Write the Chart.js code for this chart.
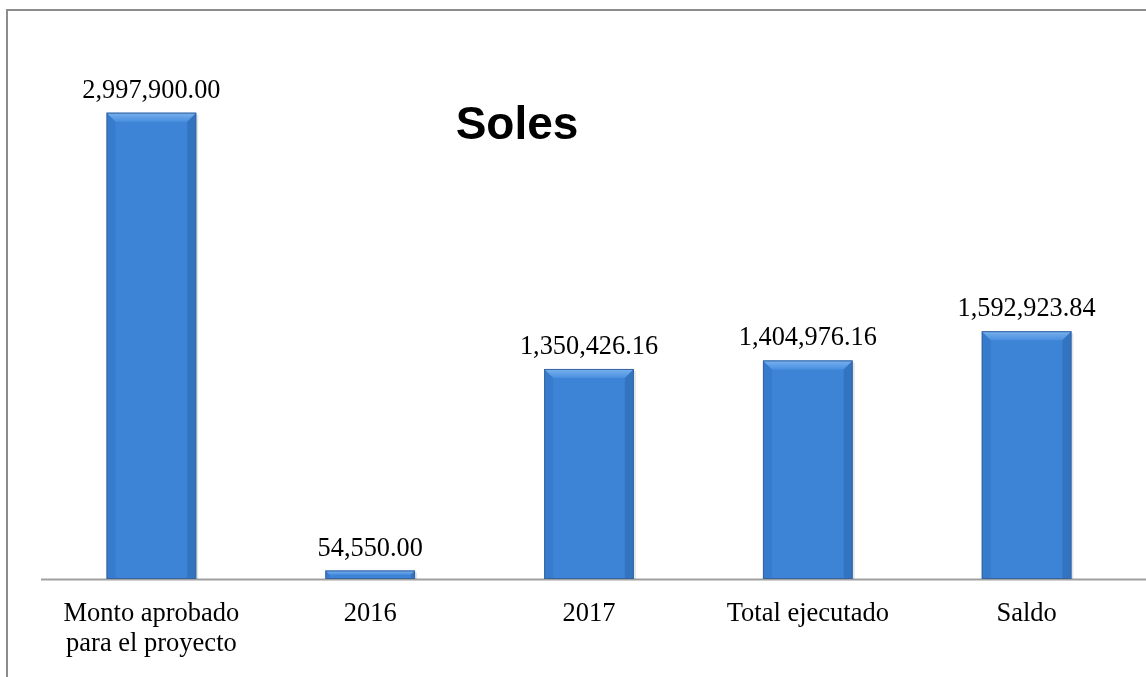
<!DOCTYPE html>
<html>
<head>
<meta charset="utf-8">
<script src="https://cdn.jsdelivr.net/npm/chart.js@4.4.1/dist/chart.umd.min.js"></script>
<style>
html,body{margin:0;padding:0;background:#fff;}
#wrap{width:1146px;height:677px;position:relative;}
</style>
</head>
<body>
<div id="wrap"><canvas id="c" width="1146" height="677"></canvas></div>
<script>
const categories = [["Monto aprobado","para el proyecto"],"2016","2017","Total ejecutado","Saldo"];
const values = [2997900.00, 54550.00, 1350426.16, 1404976.16, 1592923.84];
const chartTitle = "Soles";

const fmt = v => v.toLocaleString('en-US',{minimumFractionDigits:2,maximumFractionDigits:2});

const decor = {
  id:'decor',
  beforeDraw(chart){
    const ctx = chart.ctx;
    ctx.save();
    ctx.fillStyle = '#fff';
    ctx.fillRect(0,0,chart.width,chart.height);
    ctx.strokeStyle = '#8c8c8c';
    ctx.lineWidth = 2;
    ctx.beginPath();
    ctx.moveTo(7, chart.height+2);
    ctx.lineTo(7, 10);
    ctx.lineTo(chart.width+2, 10);
    ctx.stroke();
    ctx.restore();
  },
  afterDatasetsDraw(chart){
    const ctx = chart.ctx;
    const meta = chart.getDatasetMeta(0);
    const area = chart.chartArea;
    ctx.save();
    // axis line
    ctx.strokeStyle = '#a0a0a0';
    ctx.lineWidth = 2;
    ctx.beginPath();
    ctx.moveTo(41, area.bottom+0.5);
    ctx.lineTo(chart.width, area.bottom+0.5);
    ctx.stroke();
    meta.data.forEach((bar,i)=>{
      const w = bar.width, l = bar.x - w/2, r = bar.x + w/2, t = bar.y, b = bar.base;
      const h = b - t;
      const bev = Math.min(9, h/2);
      // right shadow
      ctx.fillStyle = 'rgba(0,0,0,0.10)';
      ctx.fillRect(r, t+2, 2, h-2);
      // top bevel
      const g = ctx.createLinearGradient(0,t,0,t+bev);
      g.addColorStop(0,'#7ab2ee');
      g.addColorStop(1,'#4a8fe0');
      ctx.fillStyle = g;
      ctx.beginPath();
      ctx.moveTo(l,t); ctx.lineTo(r,t); ctx.lineTo(r-bev,t+bev); ctx.lineTo(l+bev,t+bev); ctx.closePath();
      ctx.fill();
      // left bevel
      ctx.fillStyle = 'rgba(30,80,150,0.15)';
      ctx.beginPath();
      ctx.moveTo(l,t); ctx.lineTo(l+bev,t+bev); ctx.lineTo(l+bev,b); ctx.lineTo(l,b); ctx.closePath();
      ctx.fill();
      // right bevel
      ctx.fillStyle = 'rgba(20,60,120,0.22)';
      ctx.beginPath();
      ctx.moveTo(r,t); ctx.lineTo(r-bev,t+bev); ctx.lineTo(r-bev,b); ctx.lineTo(r,b); ctx.closePath();
      ctx.fill();
      // outline
      ctx.strokeStyle = '#3764a0';
      ctx.lineWidth = 1;
      ctx.strokeRect(l+0.5,t+0.5,w-1,h-1);
      // label
      ctx.fillStyle = '#000';
      ctx.font = '26.3px "Liberation Serif", "Times New Roman", serif';
      ctx.textAlign = 'center';
      ctx.textBaseline = 'alphabetic';
      ctx.fillText(fmt(values[i]), bar.x, t - 15);
    });
    // title
    ctx.font = 'bold 46px "Liberation Sans", Arial, sans-serif';
    ctx.fillStyle = '#000';
    ctx.textAlign = 'center';
    ctx.fillText(chartTitle, 517, 139);
    ctx.restore();
  }
};

new Chart(document.getElementById('c'), {
  type:'bar',
  data:{
    labels: categories,
    datasets:[{
      data: values,
      backgroundColor: (ctx)=>{
        const chart = ctx.chart;
        const el = chart.getDatasetMeta(0).data[ctx.dataIndex];
        if(!el || !el.width) return '#3d84d6';
        const l = el.x - el.width/2, r = el.x + el.width/2;
        const g = chart.ctx.createLinearGradient(l,0,r,0);
        g.addColorStop(0,'#3a78c6');
        g.addColorStop(0.5,'#3f87da');
        g.addColorStop(1,'#3a7ccc');
        return g;
      },
      borderWidth:0,
      barPercentage:0.82,
      categoryPercentage:0.5
    }]
  },
  options:{
    responsive:false,
    animation:false,
    devicePixelRatio:1,
    layout:{padding:{left:42,right:10,top:19,bottom:0}},
    plugins:{legend:{display:false},title:{display:false},tooltip:{enabled:false}},
    scales:{
      y:{display:false,min:0,max:3600000},
      x:{
        grid:{display:false},
        border:{display:false},
        ticks:{
          color:'#000',
          padding:12,
          maxRotation:0,
          autoSkip:false,
          font:{family:'"Liberation Serif", "Times New Roman", serif', size:26.5, lineHeight:1.13}
        },
        afterFit(scale){ scale.height = 98; }
      }
    }
  },
  plugins:[decor]
});
</script>
</body>
</html>
